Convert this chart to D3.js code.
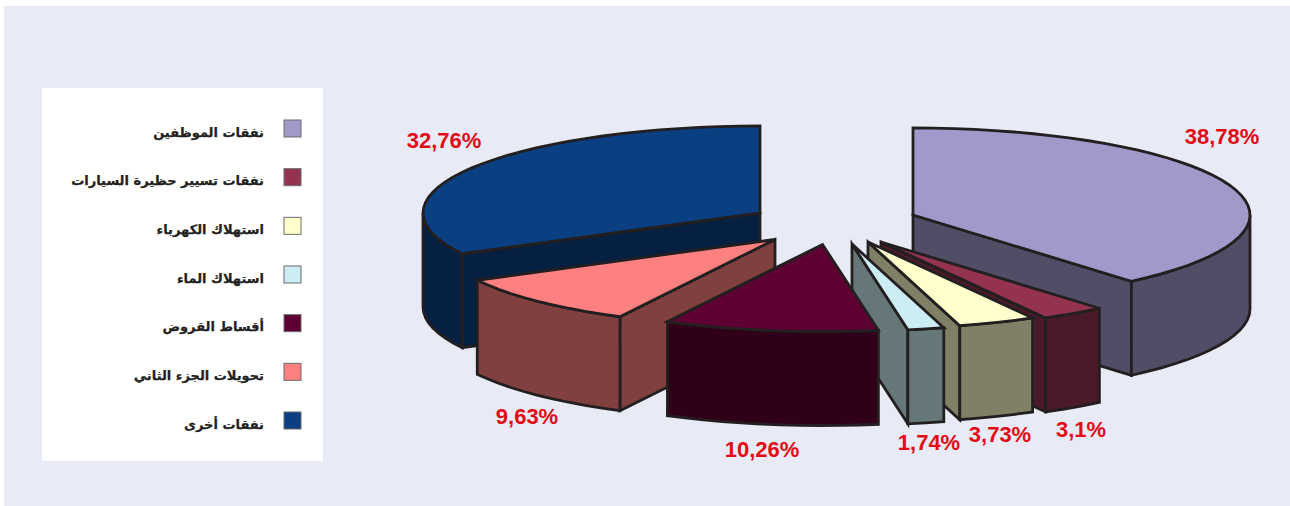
<!DOCTYPE html>
<html lang="ar">
<head>
<meta charset="utf-8">
<title>توزيع النفقات</title>
<script src="https://cdn.jsdelivr.net/npm/d3@7"></script>
<style>
  html, body { margin: 0; padding: 0; background: #fff; }
  svg { display: block; }
  .pct { font: bold 22px "Liberation Sans", Arial, sans-serif; fill: #E20A16; text-anchor: middle; }
  .legend-label { font: bold 13px "DejaVu Sans", sans-serif; fill: #231F20; stroke: #231F20; stroke-width: 0.25; text-anchor: end; }
</style>
</head>
<body>
<svg id="chart" width="1290" height="506"></svg>
<script>
// Budget shares, clockwise from twelve o'clock
const categories = [
  "نفقات الموظفين",
  "نفقات تسيير حظيرة السيارات",
  "استهلاك الكهرباء",
  "استهلاك الماء",
  "أقساط القروض",
  "تحويلات الجزء الثاني",
  "نفقات أخرى"
];
const shares = [38.78, 3.1, 3.73, 1.74, 10.26, 9.63, 32.76];
const colours = ["#A299CB", "#933350", "#FFFFCC", "#CCEDF4", "#5F0032", "#FF8080", "#0A4081"];

// Exploded centre of every slice, and where its percentage sits
const sliceCentres = [[913, 215], [881, 242], [868, 242], [852, 244], [822.5, 244.5], [775, 239.5], [760, 213]];
const labelSpots = [[1222, 144], [1081, 437], [1000, 442], [929, 450], [762, 457], [527, 424], [444, 148]];
// Back-to-front order for the painter's algorithm
const paintOrder = [6, 0, 5, 1, 2, 3, 4];

const rx = 337, ry = 87, depth = 94;
const svg = d3.select("#chart");

svg.append("rect").attr("x", 4).attr("y", 6).attr("width", 1286).attr("height", 500).attr("fill", "#E8EBF5");

// Angles come straight from the pie layout
const arcs = d3.pie().sort(null).value(d => d).startAngle(0).endAngle(2 * Math.PI)(shares);

const line = d3.line().curve(d3.curveLinear);
const rimPoint = (c, a, drop = 0) => [c[0] + rx * Math.sin(a), c[1] - ry * Math.cos(a) + drop];
const rim = (c, a0, a1, drop = 0) => {
  const n = Math.max(1, Math.round(Math.abs(a1 - a0) / (3.5 * Math.PI / 180)));
  return d3.range(n + 1).map(i => rimPoint(c, a0 + (a1 - a0) * i / n, drop));
};

const pieGroup = svg.append("g")
  .attr("stroke", "#231F20").attr("stroke-width", 2.8).attr("stroke-linejoin", "miter").attr("stroke-miterlimit", 4);

paintOrder.forEach(i => {
  const { startAngle: a0, endAngle: a1 } = arcs[i];
  const c = sliceCentres[i];
  const base = colours[i];
  const shade = d3.interpolateRgb(base, "#000")(0.5);
  const g = pieGroup.append("g");

  // Radial cut faces that turn toward the viewer
  const cutFace = a => {
    const p = rimPoint(c, a);
    g.append("path").attr("fill", shade)
      .attr("d", line([c, p, [p[0], p[1] + depth], [c[0], c[1] + depth]]) + "Z");
  };
  if (a0 > Math.PI) cutFace(a0);
  if (a1 < Math.PI) cutFace(a1);

  // Outer wall, only along the front half of the rim
  const w0 = Math.max(a0, Math.PI / 2), w1 = Math.min(a1, 3 * Math.PI / 2);
  if (w1 > w0) {
    g.append("path").attr("fill", shade)
      .attr("d", line(rim(c, w0, w1).concat(rim(c, w1, w0, depth))) + "Z");
  }

  // Top face
  g.append("path").attr("fill", base)
    .attr("d", line([c].concat(rim(c, a0, a1))) + "Z");
});

// Percentage labels use a decimal comma
svg.append("g").selectAll("text").data(shares).join("text")
  .attr("class", "pct")
  .attr("x", (d, i) => labelSpots[i][0])
  .attr("y", (d, i) => labelSpots[i][1])
  .text(d => String(d).replace(".", ",") + "%");

// Legend panel
const legend = svg.append("g");
legend.append("rect").attr("x", 42).attr("y", 88).attr("width", 281).attr("height", 373).attr("fill", "#fff");
const legendY = d3.scalePoint().domain(categories).range([128.5, 420.5]);
const rows = legend.selectAll("g").data(categories).join("g")
  .attr("transform", d => `translate(0,${legendY(d)})`);
rows.append("rect")
  .attr("x", 284).attr("y", -8.5).attr("width", 17).attr("height", 17)
  .attr("fill", (d, i) => colours[i]).attr("stroke", "#6b6b6b").attr("stroke-width", 1);
rows.append("text")
  .attr("class", "legend-label")
  .attr("x", 264).attr("y", 8)
  .text(d => d);
</script>
</body>
</html>
